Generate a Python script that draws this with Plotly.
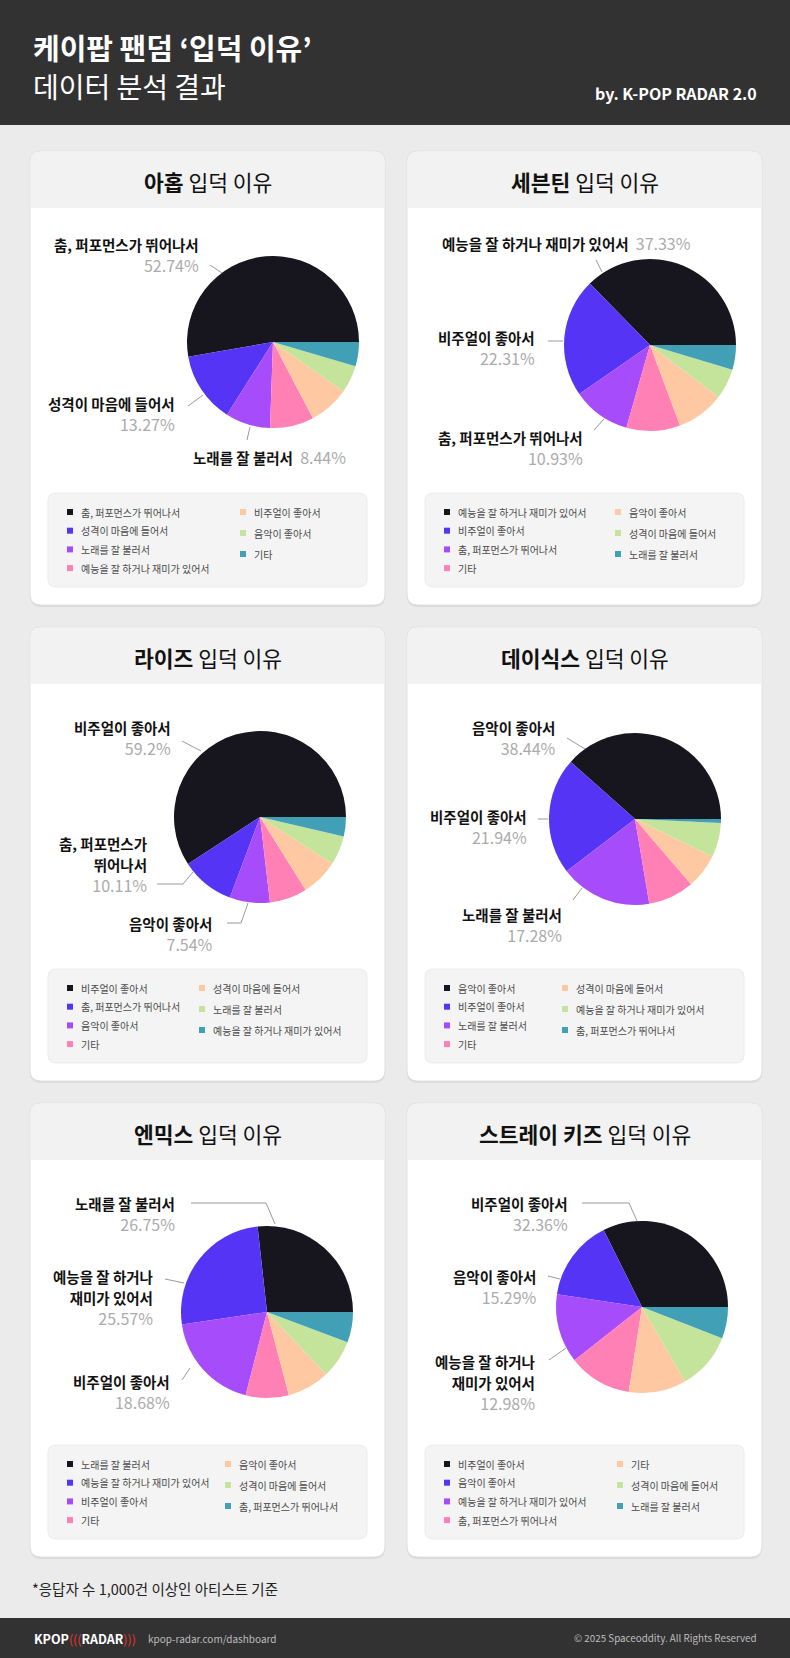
import plotly.graph_objects as go

W, H = 790, 1658

# --- data -----------------------------------------------------------------
GROUPS = ["아홉", "세븐틴", "라이즈", "데이식스", "엔믹스", "스트레이 키즈"]

AHOP_REASONS = ["춤, 퍼포먼스가 뛰어나서", "성격이 마음에 들어서", "노래를 잘 불러서",
                "예능을 잘 하거나 재미가 있어서", "비주얼이 좋아서", "음악이 좋아서", "기타"]
AHOP_SHARES = [52.74, 13.27, 8.44, 8.24, 7.60, 5.15, 4.56]

SVT_REASONS = ["예능을 잘 하거나 재미가 있어서", "비주얼이 좋아서", "춤, 퍼포먼스가 뛰어나서",
               "기타", "음악이 좋아서", "성격이 마음에 들어서", "노래를 잘 불러서"]
SVT_SHARES = [37.33, 22.31, 10.93, 10.10, 9.00, 5.70, 4.63]

RIIZE_REASONS = ["비주얼이 좋아서", "춤, 퍼포먼스가 뛰어나서", "음악이 좋아서", "기타",
                 "성격이 마음에 들어서", "노래를 잘 불러서", "예능을 잘 하거나 재미가 있어서"]
RIIZE_SHARES = [59.2, 10.11, 7.54, 7.05, 7.00, 5.45, 3.65]

DAY6_REASONS = ["음악이 좋아서", "비주얼이 좋아서", "노래를 잘 불러서", "기타",
                "성격이 마음에 들어서", "예능을 잘 하거나 재미가 있어서", "춤, 퍼포먼스가 뛰어나서"]
DAY6_SHARES = [38.44, 21.94, 17.28, 8.64, 6.50, 6.45, 0.75]

NMIXX_REASONS = ["노래를 잘 불러서", "예능을 잘 하거나 재미가 있어서", "비주얼이 좋아서", "기타",
                 "음악이 좋아서", "성격이 마음에 들어서", "춤, 퍼포먼스가 뛰어나서"]
NMIXX_SHARES = [26.75, 25.57, 18.68, 8.10, 8.00, 7.17, 5.73]

SKZ_REASONS = ["비주얼이 좋아서", "음악이 좋아서", "예능을 잘 하거나 재미가 있어서",
               "춤, 퍼포먼스가 뛰어나서", "기타", "성격이 마음에 들어서", "노래를 잘 불러서"]
SKZ_SHARES = [32.36, 15.29, 12.98, 11.90, 10.80, 10.75, 5.92]

ALL_REASONS = [AHOP_REASONS, SVT_REASONS, RIIZE_REASONS, DAY6_REASONS, NMIXX_REASONS, SKZ_REASONS]
ALL_SHARES = [AHOP_SHARES, SVT_SHARES, RIIZE_SHARES, DAY6_SHARES, NMIXX_SHARES, SKZ_SHARES]

PALETTE = ["#17161f", "#5634f6", "#a64cfa", "#ff80b5", "#fec9a2", "#c5e49b", "#41a0b5"]

# --- layout (pixels) -------------------------------------------------------
FONT = "Noto Sans CJK KR"
CARD_ORIGINS = [(30, 151), (407, 151), (30, 627), (407, 627), (30, 1103), (407, 1103)]
CARD_W, CARD_H = 355, 454
BAND_H = 57
PIE_CENTERS = [(243, 191), (243, 194), (230, 190), (228, 192), (237, 209), (235, 204)]
PIE_R = 86
LEGEND_COL2 = [213, 211, 172, 158, 198, 213]

# callouts for the top three slices: card-relative anchor, style, leader line
CALLOUTS = [
    [dict(kind="stack", x=171, y=92, brk=0, line=[(180, 114), (192, 122)]),
     dict(kind="stack", x=147, y=251, brk=0, line=[(158, 255), (173, 244)]),
     dict(kind="inline", x=161, y=306, line=[(217, 289), (220, 276)])],
    [dict(kind="inline", x=33, y=92, line=[(189, 109), (195, 121)]),
     dict(kind="stack", x=130, y=185, brk=0, line=[(141, 190), (156, 190)]),
     dict(kind="stack", x=178, y=285, brk=0, line=[(187, 279), (197, 268)])],
    [dict(kind="stack", x=143, y=99, brk=0, line=[(152, 114), (171, 124)]),
     dict(kind="stack", x=119, y=215, brk=2, line=[(127, 257), (153, 257), (163, 245)]),
     dict(kind="stack", x=185, y=295, brk=0, line=[(197, 296), (211, 296), (218, 276)])],
    [dict(kind="stack", x=151, y=99, brk=0, line=[(160, 111), (178, 122)]),
     dict(kind="stack", x=122, y=188, brk=0, line=[(131, 192), (141, 192)]),
     dict(kind="stack", x=157, y=286, brk=0, line=[(166, 273), (175, 261)])],
    [dict(kind="stack", x=147, y=99, brk=0, line=[(161, 100), (236, 100), (245, 121)]),
     dict(kind="stack", x=125, y=172, brk=3, line=[(135, 176), (154, 180)]),
     dict(kind="stack", x=142, y=277, brk=0, line=[(152, 277), (160, 265)])],
    [dict(kind="stack", x=163, y=99, brk=0, line=[(175, 100), (222, 100), (230, 118)]),
     dict(kind="stack", x=132, y=172, brk=0, line=[(141, 173), (153, 176)]),
     dict(kind="stack", x=130, y=257, brk=3, line=[(142, 257), (159, 245)])],
]


def rounded_path(x0, y0, x1, y1, r, top_only=False):
    rb = 0 if top_only else r
    return (f"M{x0 + r},{y0} L{x1 - r},{y0} Q{x1},{y0} {x1},{y0 + r} "
            f"L{x1},{y1 - rb} Q{x1},{y1} {x1 - rb},{y1} L{x0 + rb},{y1} "
            f"Q{x0},{y1} {x0},{y1 - rb} L{x0},{y0 + r} Q{x0},{y0} {x0 + r},{y0} Z")


def fmt_pct(v):
    return f"{v:g}%"


fig = go.Figure()
shapes = []
annotations = []


def text(x, y, s, size, color="#111111", xanchor="left", yanchor="middle", align="left"):
    annotations.append(dict(x=x, y=y, xref="x", yref="y", text=s, showarrow=False,
                            xanchor=xanchor, yanchor=yanchor, align=align,
                            font=dict(family=FONT, size=size, color=color)))


NAME_SPAN = "<span style='font-size:14.5px'><b>{}</b></span>"
PCT_SPAN = "<span style='color:#ababab'>{}</span>"

# header and footer bands
shapes.append(dict(type="rect", x0=0, x1=W, y0=0, y1=125, fillcolor="#323232",
                   line_width=0, layer="below"))
shapes.append(dict(type="rect", x0=0, x1=W, y0=1618, y1=H, fillcolor="#323232",
                   line_width=0, layer="below"))
text(31, 47, "<b>케이팝 팬덤 ‘입덕 이유’</b>", 29, "#ffffff")
text(31, 86, "데이터 분석 결과", 28, "#ffffff")
text(759, 93, "<b>by. K-POP RADAR 2.0</b>", 16, "#ffffff", xanchor="right")

for i, group in enumerate(GROUPS):
    reasons, shares = ALL_REASONS[i], ALL_SHARES[i]
    ox, oy = CARD_ORIGINS[i]

    # card body, shadow and title band
    shapes.append(dict(type="path", path=rounded_path(ox, oy + 2, ox + CARD_W, oy + CARD_H + 2, 11),
                       fillcolor="#dcdcdc", line_width=0, layer="below"))
    shapes.append(dict(type="path", path=rounded_path(ox, oy, ox + CARD_W, oy + CARD_H, 11),
                       fillcolor="#ffffff", line=dict(color="#e0e0e0", width=1), layer="below"))
    shapes.append(dict(type="path", path=rounded_path(ox + 0.5, oy + 0.5, ox + CARD_W - 0.5, oy + BAND_H, 11, True),
                       fillcolor="#f2f2f2", line_width=0, layer="below"))
    text(ox + CARD_W / 2, oy + 30, f"<b>{group}</b> 입덕 이유", 21.5, "#111111", xanchor="center")

    # pie: first slice starts at 3 o'clock and runs counterclockwise
    cx, cy = ox + PIE_CENTERS[i][0], oy + PIE_CENTERS[i][1]
    first_deg = 360 * shares[0] / sum(shares)
    fig.add_trace(go.Pie(
        labels=reasons, values=shares, sort=False, direction="counterclockwise",
        rotation=90 - first_deg,
        marker=dict(colors=PALETTE, line=dict(width=0)), textinfo="none", showlegend=False,
        hovertemplate="%{label}: %{value}%<extra></extra>",
        domain=dict(x=[(cx - PIE_R) / W, (cx + PIE_R) / W],
                    y=[1 - (cy + PIE_R) / H, 1 - (cy - PIE_R) / H]),
    ))

    # callouts
    for k, c in enumerate(CALLOUTS[i]):
        name, pct = reasons[k], fmt_pct(shares[k])
        pts = [(ox + px, oy + py) for px, py in c["line"]]
        path = "M" + " L".join(f"{px},{py}" for px, py in pts)
        shapes.append(dict(type="path", path=path, line=dict(color="#9a9a9a", width=1), layer="above"))
        if c["kind"] == "inline":
            text(ox + c["x"], oy + c["y"], NAME_SPAN.format(name) + "  " + PCT_SPAN.format(pct), 16)
        else:
            words = name.split(" ")
            parts = [name]
            if c["brk"]:
                parts = [" ".join(words[:c["brk"]]), " ".join(words[c["brk"]:])]
            html = "<br>".join(NAME_SPAN.format(p) for p in parts) + "<br>" + PCT_SPAN.format(pct)
            text(ox + c["x"], oy + c["y"] - 11, html, 16, xanchor="right", yanchor="top", align="right")

    # legend box
    shapes.append(dict(type="path", path=rounded_path(ox + 18, oy + 342, ox + 337, oy + 436, 8),
                       fillcolor="#f4f4f4", line=dict(color="#ececec", width=1), layer="below"))
    for k, name in enumerate(reasons):
        if k < 4:
            lx, ly = ox + 37, oy + 361 + 18.7 * k
        else:
            lx, ly = ox + LEGEND_COL2[i] - 3, oy + 361 + 21 * (k - 4)
        shapes.append(dict(type="rect", x0=lx, x1=lx + 6, y0=ly - 3, y1=ly + 3,
                           fillcolor=PALETTE[k], line_width=0, layer="above"))
        text(lx + 12, ly, name, 10, "#4a4a4a")

# footnote and footer
text(30, 1588, "*응답자 수 1,000건 이상인 아티스트 기준", 14.5, "#222222")
text(32, 1638, "<b>KPOP</b><span style='color:#e8352b'>(((</span><b>RADAR</b>"
               "<span style='color:#e8352b'>)))</span>", 12.5, "#ffffff")
text(146, 1638, "kpop-radar.com/dashboard", 10, "#bdbdbd")
text(759, 1638, "© 2025 Spaceoddity. All Rights Reserved", 9.8, "#bdbdbd", xanchor="right")

fig.update_layout(
    width=W, height=H, autosize=False,
    margin=dict(l=0, r=0, t=0, b=0),
    paper_bgcolor="#ebebeb", plot_bgcolor="rgba(0,0,0,0)",
    xaxis=dict(range=[0, W], visible=False, fixedrange=True),
    yaxis=dict(range=[H, 0], visible=False, fixedrange=True),
    shapes=shapes, annotations=annotations,
    font=dict(family=FONT),
)

fig.write_html("out.html", config={"displayModeBar": False},
               post_script="document.body.style.margin='0';")
